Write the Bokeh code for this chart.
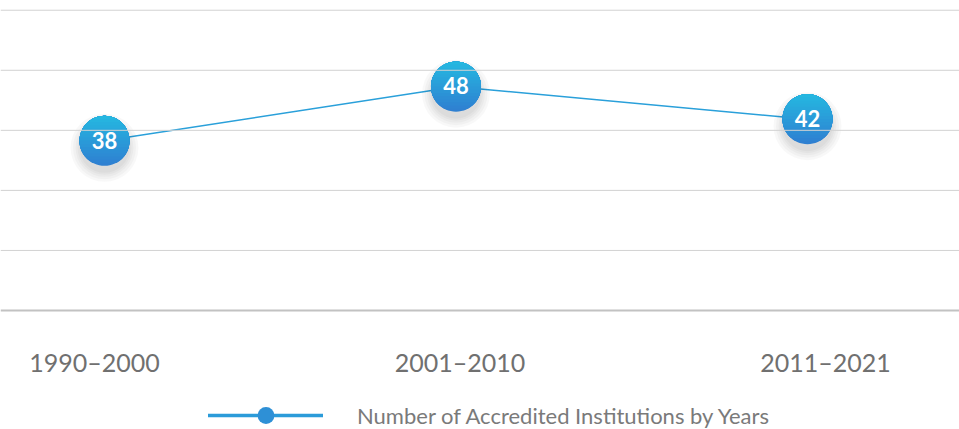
import numpy as np
from bokeh.plotting import figure
from bokeh.models import Range1d, Span, Legend, LegendItem
from bokeh.core.properties import value
from bokeh.embed import file_html
from bokeh.resources import INLINE

# ---- data ----
categories = ["1990–2000", "2001–2010", "2011–2021"]
accredited = [38, 48, 42]
series_name = "Number of Accredited Institutions by Years"

# ---- layout constants ----
W, H = 959, 429
PX_X = 351.5          # pixels per category step
PX_Y = 5.42           # pixels per unit of value
BASE = 6.7            # value at the baseline
STEP = 11.08          # value step between grid lines
x0 = -104 / PX_X
y_top = BASE + 310 / PX_Y
y_bot = BASE - 119 / PX_Y

p = figure(width=W, height=H, output_backend="svg", toolbar_location=None,
           x_range=Range1d(x0, x0 + W / PX_X), y_range=Range1d(y_bot, y_top),
           x_axis_location=None, y_axis_location=None, min_border=0)
p.outline_line_color = None
p.grid.visible = False
p.background_fill_color = "white"
p.border_fill_color = "white"

# grid lines
for k in range(1, 6):
    p.add_layout(Span(location=BASE + STEP * k, dimension="width",
                      line_color="#d2d2d2", line_width=1))
p.add_layout(Span(location=BASE, dimension="width", line_color="#c2c2c2", line_width=2))

xs = list(range(len(categories)))

# line
p.line(xs, accredited, line_color="#2aa0da", line_width=1.5)

# shadows
R = 25
for s in [68, 63, 58, 54, 50]:
    p.scatter(xs, [v - 7 / PX_Y for v in accredited], size=s,
              fill_color="black", fill_alpha=0.028, line_color=None)

# gradient bubbles (stacked caps)
top_c = np.array([37, 187, 226])
bot_c = np.array([47, 128, 209])
N = 16
for xc, yc in zip(xs, accredited):
    pxs, pys, cols = [], [], []
    for k in range(N):
        frac = k / N
        h = -R + 2 * R * frac
        t0 = np.arcsin(h / R)
        t = np.linspace(t0, np.pi - t0, 60)
        pxs.append(list(xc + R * np.cos(t) / PX_X))
        pys.append(list(yc + R * np.sin(t) / PX_Y))
        c = (bot_c + (top_c - bot_c) * frac).astype(int)
        cols.append("#%02x%02x%02x" % tuple(c))
    p.patches(pxs, pys, fill_color=cols, line_color=None)

# value labels
p.text(xs, [v + 0.8 / PX_Y for v in accredited], text=[str(v) for v in accredited],
       text_color="white", text_font=value("Lato"), text_font_style="bold",
       text_font_size="22px", text_align="center", text_baseline="middle")

# category labels
label_x = [-10 / PX_X + i * 365.5 / PX_X for i in xs]
p.text(label_x, [BASE - 51 / PX_Y] * len(xs), text=categories,
       text_color="#707070", text_font=value("Lato"), text_font_size="25px",
       text_align="center", text_baseline="middle")

# legend (dummy renderers placed outside the visible range)
off_x = [x0 - 5, x0 - 4]
leg_line = p.line(x=off_x, y=[0, 0], line_color="#2b9bd9", line_width=3.5, line_cap="round")
leg_dot = p.scatter(x=off_x[:1], y=[0], size=17, fill_color="#2e90d6", line_color=None)
legend = Legend(items=[LegendItem(label=series_name, renderers=[leg_line, leg_dot])],
                location=(208, -7), orientation="horizontal",
                glyph_width=115, glyph_height=42, label_standoff=34,
                label_text_font="Lato", label_text_font_size="22px",
                label_text_color="#7a7a7a", padding=0, margin=0, spacing=0,
                border_line_color=None, background_fill_alpha=0)
p.add_layout(legend, "center")

open("out.html", "w").write(file_html(p, INLINE))
